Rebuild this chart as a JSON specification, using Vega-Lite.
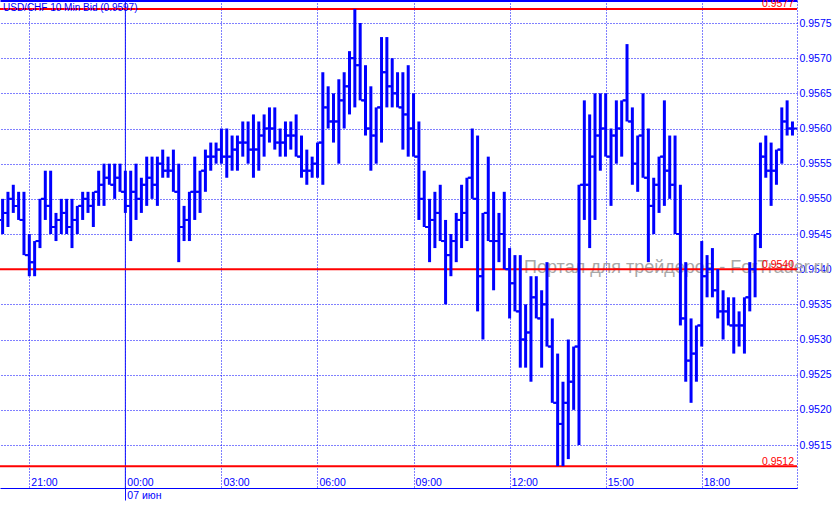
{
"$schema": "https://vega.github.io/schema/vega-lite/v6.json",
"width": 797, "height": 488,
"autosize": {"type": "none"},
"padding": {"left": 0, "top": 0, "right": 42, "bottom": 26},
"background": "white",
"config": {"view": {"stroke": null}, "font": "Liberation Sans", "text": {"font": "Liberation Sans"}},
"datasets": {
"levels": [{"p": 0.9577}, {"p": 0.9540}, {"p": 0.9512}],
"note": [{"label": "Портал для трейдеров - ForTrader.ru"}],
"head": [{"label": "USD/CHF 10 Min Bid (0.9597)"}],
"bars": [
{"t":"2012-06-06T20:10","o":0.9547,"h":0.9550,"l":0.9545,"c":0.9548},
{"t":"2012-06-06T20:20","o":0.9548,"h":0.9551,"l":0.9546,"c":0.9550},
{"t":"2012-06-06T20:30","o":0.9550,"h":0.9552,"l":0.9548,"c":0.9549},
{"t":"2012-06-06T20:40","o":0.9549,"h":0.9551,"l":0.9547,"c":0.9547},
{"t":"2012-06-06T20:50","o":0.9547,"h":0.9551,"l":0.9542,"c":0.9542},
{"t":"2012-06-06T21:00","o":0.9542,"h":0.9545,"l":0.9539,"c":0.9541},
{"t":"2012-06-06T21:10","o":0.9541,"h":0.9544,"l":0.9539,"c":0.9544},
{"t":"2012-06-06T21:20","o":0.9544,"h":0.9550,"l":0.9543,"c":0.9550},
{"t":"2012-06-06T21:30","o":0.9550,"h":0.9554,"l":0.9547,"c":0.9549},
{"t":"2012-06-06T21:40","o":0.9549,"h":0.9554,"l":0.9545,"c":0.9546},
{"t":"2012-06-06T21:50","o":0.9546,"h":0.9548,"l":0.9544,"c":0.9547},
{"t":"2012-06-06T22:00","o":0.9547,"h":0.9550,"l":0.9545,"c":0.9548},
{"t":"2012-06-06T22:10","o":0.9548,"h":0.9550,"l":0.9545,"c":0.9546},
{"t":"2012-06-06T22:20","o":0.9546,"h":0.9550,"l":0.9543,"c":0.9547},
{"t":"2012-06-06T22:30","o":0.9547,"h":0.9549,"l":0.9545,"c":0.9549},
{"t":"2012-06-06T22:40","o":0.9549,"h":0.9551,"l":0.9547,"c":0.9550},
{"t":"2012-06-06T22:50","o":0.9550,"h":0.9551,"l":0.9548,"c":0.9549},
{"t":"2012-06-06T23:00","o":0.9549,"h":0.9551,"l":0.9546,"c":0.9551},
{"t":"2012-06-06T23:10","o":0.9551,"h":0.9554,"l":0.9549,"c":0.9552},
{"t":"2012-06-06T23:20","o":0.9552,"h":0.9555,"l":0.9549,"c":0.9553},
{"t":"2012-06-06T23:30","o":0.9553,"h":0.9555,"l":0.9552,"c":0.9552},
{"t":"2012-06-06T23:40","o":0.9552,"h":0.9555,"l":0.9550,"c":0.9553},
{"t":"2012-06-06T23:50","o":0.9553,"h":0.9555,"l":0.9551,"c":0.9551},
{"t":"2012-06-07T00:00","o":0.9551,"h":0.9554,"l":0.9548,"c":0.9549},
{"t":"2012-06-07T00:10","o":0.9549,"h":0.9554,"l":0.9544,"c":0.9551},
{"t":"2012-06-07T00:20","o":0.9551,"h":0.9555,"l":0.9547,"c":0.9550},
{"t":"2012-06-07T00:30","o":0.9550,"h":0.9553,"l":0.9548,"c":0.9552},
{"t":"2012-06-07T00:40","o":0.9552,"h":0.9556,"l":0.9549,"c":0.9553},
{"t":"2012-06-07T00:50","o":0.9553,"h":0.9556,"l":0.9550,"c":0.9552},
{"t":"2012-06-07T01:00","o":0.9552,"h":0.9556,"l":0.9549,"c":0.9555},
{"t":"2012-06-07T01:10","o":0.9555,"h":0.9557,"l":0.9553,"c":0.9554},
{"t":"2012-06-07T01:20","o":0.9554,"h":0.9556,"l":0.9553,"c":0.9554},
{"t":"2012-06-07T01:30","o":0.9554,"h":0.9557,"l":0.9551,"c":0.9551},
{"t":"2012-06-07T01:40","o":0.9551,"h":0.9555,"l":0.9541,"c":0.9546},
{"t":"2012-06-07T01:50","o":0.9546,"h":0.9549,"l":0.9544,"c":0.9547},
{"t":"2012-06-07T02:00","o":0.9547,"h":0.9551,"l":0.9544,"c":0.9551},
{"t":"2012-06-07T02:10","o":0.9551,"h":0.9556,"l":0.9547,"c":0.9551},
{"t":"2012-06-07T02:20","o":0.9551,"h":0.9554,"l":0.9548,"c":0.9554},
{"t":"2012-06-07T02:30","o":0.9554,"h":0.9557,"l":0.9551,"c":0.9556},
{"t":"2012-06-07T02:40","o":0.9556,"h":0.9558,"l":0.9554,"c":0.9556},
{"t":"2012-06-07T02:50","o":0.9556,"h":0.9558,"l":0.9555,"c":0.9557},
{"t":"2012-06-07T03:00","o":0.9557,"h":0.9560,"l":0.9555,"c":0.9556},
{"t":"2012-06-07T03:10","o":0.9556,"h":0.9560,"l":0.9553,"c":0.9556},
{"t":"2012-06-07T03:20","o":0.9556,"h":0.9559,"l":0.9554,"c":0.9557},
{"t":"2012-06-07T03:30","o":0.9557,"h":0.9559,"l":0.9554,"c":0.9558},
{"t":"2012-06-07T03:40","o":0.9558,"h":0.9561,"l":0.9556,"c":0.9558},
{"t":"2012-06-07T03:50","o":0.9558,"h":0.9561,"l":0.9555,"c":0.9557},
{"t":"2012-06-07T04:00","o":0.9557,"h":0.9562,"l":0.9553,"c":0.9557},
{"t":"2012-06-07T04:10","o":0.9557,"h":0.9561,"l":0.9554,"c":0.9559},
{"t":"2012-06-07T04:20","o":0.9559,"h":0.9562,"l":0.9556,"c":0.9560},
{"t":"2012-06-07T04:30","o":0.9560,"h":0.9563,"l":0.9558,"c":0.9560},
{"t":"2012-06-07T04:40","o":0.9560,"h":0.9563,"l":0.9557,"c":0.9558},
{"t":"2012-06-07T04:50","o":0.9558,"h":0.9560,"l":0.9556,"c":0.9558},
{"t":"2012-06-07T05:00","o":0.9558,"h":0.9561,"l":0.9556,"c":0.9559},
{"t":"2012-06-07T05:10","o":0.9559,"h":0.9561,"l":0.9557,"c":0.9559},
{"t":"2012-06-07T05:20","o":0.9559,"h":0.9562,"l":0.9556,"c":0.9556},
{"t":"2012-06-07T05:30","o":0.9556,"h":0.9559,"l":0.9553,"c":0.9554},
{"t":"2012-06-07T05:40","o":0.9554,"h":0.9557,"l":0.9552,"c":0.9554},
{"t":"2012-06-07T05:50","o":0.9554,"h":0.9556,"l":0.9553,"c":0.9555},
{"t":"2012-06-07T06:00","o":0.9555,"h":0.9558,"l":0.9553,"c":0.9558},
{"t":"2012-06-07T06:10","o":0.9558,"h":0.9568,"l":0.9552,"c":0.9563},
{"t":"2012-06-07T06:20","o":0.9563,"h":0.9566,"l":0.9560,"c":0.9561},
{"t":"2012-06-07T06:30","o":0.9561,"h":0.9565,"l":0.9558,"c":0.9561},
{"t":"2012-06-07T06:40","o":0.9561,"h":0.9567,"l":0.9555,"c":0.9564},
{"t":"2012-06-07T06:50","o":0.9564,"h":0.9568,"l":0.9560,"c":0.9566},
{"t":"2012-06-07T07:00","o":0.9566,"h":0.9571,"l":0.9562,"c":0.9570},
{"t":"2012-06-07T07:10","o":0.9570,"h":0.9577,"l":0.9563,"c":0.9569},
{"t":"2012-06-07T07:20","o":0.9569,"h":0.9575,"l":0.9564,"c":0.9564},
{"t":"2012-06-07T07:30","o":0.9564,"h":0.9569,"l":0.9559,"c":0.9560},
{"t":"2012-06-07T07:40","o":0.9560,"h":0.9566,"l":0.9554,"c":0.9559},
{"t":"2012-06-07T07:50","o":0.9559,"h":0.9563,"l":0.9555,"c":0.9563},
{"t":"2012-06-07T08:00","o":0.9563,"h":0.9573,"l":0.9558,"c":0.9568},
{"t":"2012-06-07T08:10","o":0.9568,"h":0.9573,"l":0.9563,"c":0.9566},
{"t":"2012-06-07T08:20","o":0.9566,"h":0.9570,"l":0.9563,"c":0.9565},
{"t":"2012-06-07T08:30","o":0.9565,"h":0.9568,"l":0.9563,"c":0.9563},
{"t":"2012-06-07T08:40","o":0.9563,"h":0.9568,"l":0.9557,"c":0.9562},
{"t":"2012-06-07T08:50","o":0.9562,"h":0.9569,"l":0.9556,"c":0.9560},
{"t":"2012-06-07T09:00","o":0.9560,"h":0.9565,"l":0.9556,"c":0.9556},
{"t":"2012-06-07T09:10","o":0.9556,"h":0.9561,"l":0.9547,"c":0.9550},
{"t":"2012-06-07T09:20","o":0.9550,"h":0.9554,"l":0.9546,"c":0.9546},
{"t":"2012-06-07T09:30","o":0.9546,"h":0.9550,"l":0.9541,"c":0.9547},
{"t":"2012-06-07T09:40","o":0.9547,"h":0.9551,"l":0.9543,"c":0.9548},
{"t":"2012-06-07T09:50","o":0.9548,"h":0.9552,"l":0.9544,"c":0.9544},
{"t":"2012-06-07T10:00","o":0.9544,"h":0.9547,"l":0.9535,"c":0.9542},
{"t":"2012-06-07T10:10","o":0.9542,"h":0.9545,"l":0.9539,"c":0.9544},
{"t":"2012-06-07T10:20","o":0.9544,"h":0.9548,"l":0.9541,"c":0.9547},
{"t":"2012-06-07T10:30","o":0.9547,"h":0.9552,"l":0.9543,"c":0.9548},
{"t":"2012-06-07T10:40","o":0.9548,"h":0.9553,"l":0.9544,"c":0.9553},
{"t":"2012-06-07T10:50","o":0.9553,"h":0.9560,"l":0.9550,"c":0.9550},
{"t":"2012-06-07T11:00","o":0.9550,"h":0.9559,"l":0.9534,"c":0.9539},
{"t":"2012-06-07T11:10","o":0.9539,"h":0.9548,"l":0.9530,"c":0.9548},
{"t":"2012-06-07T11:20","o":0.9548,"h":0.9556,"l":0.9544,"c":0.9544},
{"t":"2012-06-07T11:30","o":0.9544,"h":0.9551,"l":0.9537,"c":0.9544},
{"t":"2012-06-07T11:40","o":0.9544,"h":0.9548,"l":0.9541,"c":0.9545},
{"t":"2012-06-07T11:50","o":0.9545,"h":0.9551,"l":0.9540,"c":0.9540},
{"t":"2012-06-07T12:00","o":0.9540,"h":0.9543,"l":0.9533,"c":0.9538},
{"t":"2012-06-07T12:10","o":0.9538,"h":0.9542,"l":0.9534,"c":0.9534},
{"t":"2012-06-07T12:20","o":0.9534,"h":0.9542,"l":0.9526,"c":0.9530},
{"t":"2012-06-07T12:30","o":0.9530,"h":0.9535,"l":0.9526,"c":0.9531},
{"t":"2012-06-07T12:40","o":0.9531,"h":0.9539,"l":0.9524,"c":0.9536},
{"t":"2012-06-07T12:50","o":0.9536,"h":0.9539,"l":0.9533,"c":0.9533},
{"t":"2012-06-07T13:00","o":0.9533,"h":0.9537,"l":0.9526,"c":0.9535},
{"t":"2012-06-07T13:10","o":0.9535,"h":0.9541,"l":0.9529,"c":0.9529},
{"t":"2012-06-07T13:20","o":0.9529,"h":0.9533,"l":0.9521,"c":0.9521},
{"t":"2012-06-07T13:30","o":0.9521,"h":0.9528,"l":0.9512,"c":0.9518},
{"t":"2012-06-07T13:40","o":0.9518,"h":0.9524,"l":0.9512,"c":0.9521},
{"t":"2012-06-07T13:50","o":0.9521,"h":0.9530,"l":0.9513,"c":0.9524},
{"t":"2012-06-07T14:00","o":0.9524,"h":0.9529,"l":0.9520,"c":0.9529},
{"t":"2012-06-07T14:10","o":0.9529,"h":0.9552,"l":0.9515,"c":0.9552},
{"t":"2012-06-07T14:20","o":0.9552,"h":0.9564,"l":0.9547,"c":0.9552},
{"t":"2012-06-07T14:30","o":0.9552,"h":0.9562,"l":0.9543,"c":0.9556},
{"t":"2012-06-07T14:40","o":0.9556,"h":0.9565,"l":0.9547,"c":0.9559},
{"t":"2012-06-07T14:50","o":0.9559,"h":0.9565,"l":0.9554,"c":0.9560},
{"t":"2012-06-07T15:00","o":0.9560,"h":0.9565,"l":0.9556,"c":0.9556},
{"t":"2012-06-07T15:10","o":0.9556,"h":0.9560,"l":0.9549,"c":0.9559},
{"t":"2012-06-07T15:20","o":0.9559,"h":0.9564,"l":0.9555,"c":0.9560},
{"t":"2012-06-07T15:30","o":0.9560,"h":0.9564,"l":0.9556,"c":0.9564},
{"t":"2012-06-07T15:40","o":0.9564,"h":0.9572,"l":0.9561,"c":0.9561},
{"t":"2012-06-07T15:50","o":0.9561,"h":0.9563,"l":0.9552,"c":0.9555},
{"t":"2012-06-07T16:00","o":0.9555,"h":0.9559,"l":0.9551,"c":0.9559},
{"t":"2012-06-07T16:10","o":0.9559,"h":0.9565,"l":0.9553,"c":0.9553},
{"t":"2012-06-07T16:20","o":0.9553,"h":0.9560,"l":0.9541,"c":0.9549},
{"t":"2012-06-07T16:30","o":0.9549,"h":0.9553,"l":0.9545,"c":0.9552},
{"t":"2012-06-07T16:40","o":0.9552,"h":0.9556,"l":0.9548,"c":0.9556},
{"t":"2012-06-07T16:50","o":0.9556,"h":0.9564,"l":0.9549,"c":0.9554},
{"t":"2012-06-07T17:00","o":0.9554,"h":0.9559,"l":0.9550,"c":0.9552},
{"t":"2012-06-07T17:10","o":0.9552,"h":0.9559,"l":0.9545,"c":0.9545},
{"t":"2012-06-07T17:20","o":0.9545,"h":0.9552,"l":0.9532,"c":0.9533},
{"t":"2012-06-07T17:30","o":0.9533,"h":0.9541,"l":0.9524,"c":0.9527},
{"t":"2012-06-07T17:40","o":0.9527,"h":0.9533,"l":0.9521,"c":0.9528},
{"t":"2012-06-07T17:50","o":0.9528,"h":0.9532,"l":0.9524,"c":0.9532},
{"t":"2012-06-07T18:00","o":0.9532,"h":0.9544,"l":0.9529,"c":0.9539},
{"t":"2012-06-07T18:10","o":0.9539,"h":0.9542,"l":0.9536,"c":0.9540},
{"t":"2012-06-07T18:20","o":0.9540,"h":0.9543,"l":0.9536,"c":0.9537},
{"t":"2012-06-07T18:30","o":0.9537,"h":0.9540,"l":0.9533,"c":0.9534},
{"t":"2012-06-07T18:40","o":0.9534,"h":0.9537,"l":0.9530,"c":0.9534},
{"t":"2012-06-07T18:50","o":0.9534,"h":0.9536,"l":0.9532,"c":0.9532},
{"t":"2012-06-07T19:00","o":0.9532,"h":0.9536,"l":0.9528,"c":0.9532},
{"t":"2012-06-07T19:10","o":0.9532,"h":0.9534,"l":0.9529,"c":0.9532},
{"t":"2012-06-07T19:20","o":0.9532,"h":0.9536,"l":0.9528,"c":0.9536},
{"t":"2012-06-07T19:30","o":0.9536,"h":0.9541,"l":0.9534,"c":0.9540},
{"t":"2012-06-07T19:40","o":0.9540,"h":0.9545,"l":0.9536,"c":0.9545},
{"t":"2012-06-07T19:50","o":0.9545,"h":0.9558,"l":0.9543,"c":0.9556},
{"t":"2012-06-07T20:00","o":0.9556,"h":0.9559,"l":0.9553,"c":0.9554},
{"t":"2012-06-07T20:10","o":0.9554,"h":0.9558,"l":0.9549,"c":0.9554},
{"t":"2012-06-07T20:20","o":0.9554,"h":0.9557,"l":0.9552,"c":0.9557},
{"t":"2012-06-07T20:30","o":0.9557,"h":0.9563,"l":0.9555,"c":0.9561},
{"t":"2012-06-07T20:40","o":0.9561,"h":0.9564,"l":0.9559,"c":0.9560},
{"t":"2012-06-07T20:50","o":0.9560,"h":0.9561,"l":0.9559,"c":0.9560}
]},
"layer": [
{"data": {"name": "note"},
 "mark": {"type": "text", "align": "left", "baseline": "middle", "fontSize": 18, "color": "#a8a8a8", "dy": -1},
 "encoding": {
  "x": {"datum": {"year": 2012, "month": 6, "date": 7, "hours": 12, "minutes": 27}, "type": "temporal", "axis": null,
        "scale": {"domain": [{"year":2012,"month":6,"date":6,"hours":20,"minutes":5,"seconds":6},{"year":2012,"month":6,"date":7,"hours":20,"minutes":58,"seconds":30}]}},
  "y": {"datum": 0.9540, "type": "quantitative", "axis": null, "scale": {"domain": [0.950889, 0.957827], "nice": false, "zero": false}},
  "text": {"field": "label"}}},
{"data": {"name": "head"},
 "mark": {"type": "rule", "color": "#1010ff", "strokeWidth": 1},
 "encoding": {
  "x": {"datum": {"year":2012,"month":6,"date":7,"hours":0}, "type": "temporal", "axis": null,
        "scale": {"domain": [{"year":2012,"month":6,"date":6,"hours":20,"minutes":5,"seconds":6},{"year":2012,"month":6,"date":7,"hours":20,"minutes":58,"seconds":30}]}}}},
{"data": {"name": "levels"},
 "mark": {"type": "rule", "color": "#ff0000", "strokeWidth": 2},
 "encoding": {
  "y": {"field": "p", "type": "quantitative", "axis": null, "scale": {"domain": [0.950889, 0.957827], "nice": false, "zero": false}}}},
{"data": {"name": "levels"},
 "mark": {"type": "text", "align": "right", "baseline": "alphabetic", "fontSize": 10.5, "color": "#ff0000", "dx": -3, "dy": -1.5},
 "encoding": {
  "x": {"datum": {"year":2012,"month":6,"date":7,"hours":20,"minutes":58,"seconds":30}, "type": "temporal", "axis": null,
        "scale": {"domain": [{"year":2012,"month":6,"date":6,"hours":20,"minutes":5,"seconds":6},{"year":2012,"month":6,"date":7,"hours":20,"minutes":58,"seconds":30}]}},
  "y": {"field": "p", "type": "quantitative", "axis": null, "scale": {"domain": [0.950889, 0.957827], "nice": false, "zero": false}},
  "text": {"field": "p", "type": "quantitative", "format": ".4f"}}},
{"data": {"name": "bars"},
 "mark": {"type": "rule", "color": "#0000ff", "strokeWidth": 3},
 "encoding": {
  "x": {"field": "t", "type": "temporal",
        "scale": {"domain": [{"year":2012,"month":6,"date":6,"hours":20,"minutes":5,"seconds":6},{"year":2012,"month":6,"date":7,"hours":20,"minutes":58,"seconds":30}]},
        "axis": {"title": null, "orient": "bottom",
          "values": [{"year":2012,"month":6,"date":6,"hours":21},{"year":2012,"month":6,"date":7,"hours":0},{"year":2012,"month":6,"date":7,"hours":3},{"year":2012,"month":6,"date":7,"hours":6},{"year":2012,"month":6,"date":7,"hours":9},{"year":2012,"month":6,"date":7,"hours":12},{"year":2012,"month":6,"date":7,"hours":15},{"year":2012,"month":6,"date":7,"hours":18}],
          "labelExpr": "hours(datum.value) === 0 ? [timeFormat(datum.value, '%H:%M'), '07 июн'] : timeFormat(datum.value, '%H:%M')",
          "labelAlign": "left", "labelBaseline": "alphabetic", "labelOffset": 1.5, "labelPadding": -15, "labelLineHeight": 13.5,
          "labelFont": "Liberation Sans", "labelFontSize": 10.5, "labelColor": "#0000ff", "labelFlush": false, "labelOverlap": false, "labelBound": false,
          "ticks": true, "tickSize": 12, "tickWidth": 1,
          "tickColor": {"condition": {"test": "hours(datum.value) === 0", "value": "#1010ff"}, "value": "transparent"},
          "domain": true, "domainColor": "#0000ff", "domainWidth": 1,
          "grid": true, "gridColor": "#0000ff", "gridDash": [1, 2], "gridWidth": 1, "gridOpacity": 1}},
  "y": {"field": "l", "type": "quantitative", "scale": {"domain": [0.950889, 0.957827], "nice": false, "zero": false},
        "axis": {"title": null, "orient": "right",
          "values": [0.9515, 0.952, 0.9525, 0.953, 0.9535, 0.954, 0.9545, 0.955, 0.9555, 0.956, 0.9565, 0.957, 0.9575],
          "format": ".4f", "labelFont": "Liberation Sans", "labelFontSize": 10.5, "labelColor": "#0000ff", "labelPadding": 2, "labelBaseline": "middle",
          "labelFlush": false, "labelOverlap": false, "labelBound": false,
          "ticks": false, "tickSize": 0,
          "domain": true, "domainColor": "#0000ff", "domainDash": [1, 2], "domainWidth": 1,
          "grid": true, "gridColor": "#0000ff", "gridDash": [1, 2], "gridWidth": 1, "gridOpacity": 1}},
  "y2": {"field": "h"}}},
{"data": {"name": "bars"},
 "mark": {"type": "tick", "orient": "horizontal", "color": "#0000ff", "size": 3, "thickness": 2, "xOffset": -3, "opacity": 1},
 "encoding": {
  "x": {"field": "t", "type": "temporal",
        "scale": {"domain": [{"year":2012,"month":6,"date":6,"hours":20,"minutes":5,"seconds":6},{"year":2012,"month":6,"date":7,"hours":20,"minutes":58,"seconds":30}]},
        "axis": {"title": null, "orient": "top", "labels": false, "ticks": false, "grid": false, "domain": true, "domainColor": "#0000ff", "domainWidth": 3}},
  "y": {"field": "o", "type": "quantitative", "axis": null, "scale": {"domain": [0.950889, 0.957827], "nice": false, "zero": false}}}},
{"data": {"name": "bars"},
 "mark": {"type": "tick", "orient": "horizontal", "color": "#0000ff", "size": 3, "thickness": 2, "xOffset": 3, "opacity": 1},
 "encoding": {
  "x": {"field": "t", "type": "temporal", "axis": null,
        "scale": {"domain": [{"year":2012,"month":6,"date":6,"hours":20,"minutes":5,"seconds":6},{"year":2012,"month":6,"date":7,"hours":20,"minutes":58,"seconds":30}]}},
  "y": {"field": "c", "type": "quantitative", "axis": null, "scale": {"domain": [0.950889, 0.957827], "nice": false, "zero": false}}}},
{"data": {"name": "head"},
 "mark": {"type": "text", "align": "left", "baseline": "top", "fontSize": 10, "color": "#0000ff", "dx": 3, "dy": 3},
 "encoding": {
  "x": {"datum": {"year":2012,"month":6,"date":6,"hours":20,"minutes":5,"seconds":6}, "type": "temporal", "axis": null,
        "scale": {"domain": [{"year":2012,"month":6,"date":6,"hours":20,"minutes":5,"seconds":6},{"year":2012,"month":6,"date":7,"hours":20,"minutes":58,"seconds":30}]}},
  "y": {"datum": 0.957827, "type": "quantitative", "axis": null, "scale": {"domain": [0.950889, 0.957827], "nice": false, "zero": false}},
  "text": {"field": "label"}}}
],
"resolve": {"axis": {"x": "independent", "y": "independent"}}
}
